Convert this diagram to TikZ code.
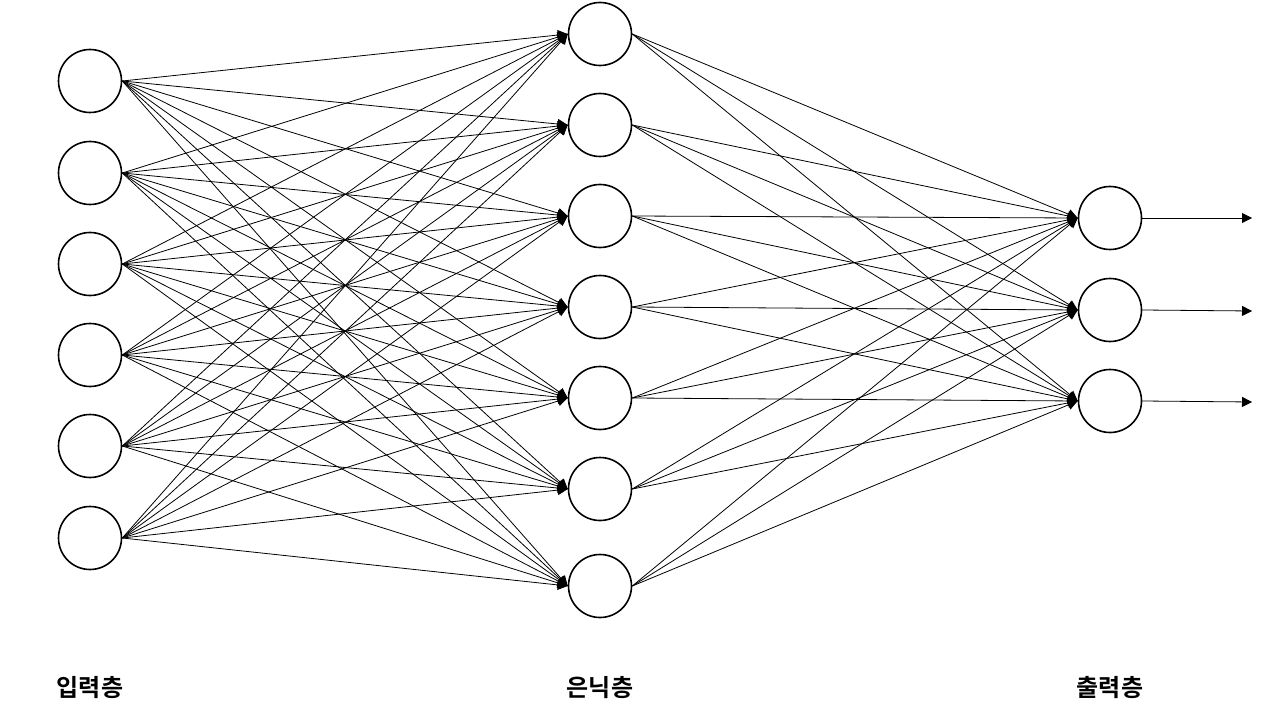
\documentclass[tikz,border=0pt]{standalone}
\usepackage{fontspec}
\newfontfamily\kr{Noto Sans CJK KR Bold}
\usetikzlibrary{arrows.meta}
\begin{document}
\begin{tikzpicture}[x=1pt,y=-1pt,
  neuron/.style={circle,draw,line width=1.6pt,minimum size=63pt,inner sep=0pt},
  conn/.style={line width=0.8pt,-{Triangle[length=10pt,width=10pt]}},
  lbl/.style={font=\kr\fontsize{24}{28}\selectfont}]
\useasboundingbox (0,0) rectangle (1265,719);
\foreach \y [count=\i] in {81,173,264,355,446,538}
  \node[neuron] (i\i) at (90,\y) {};
\foreach \y [count=\i] in {34,125,216,307,398,489,586}
  \node[neuron] (h\i) at (600,\y) {};
\foreach \y [count=\i] in {218,310,401}
  \node[neuron] (o\i) at (1110,\y) {};
\coordinate (e1) at (1252,218);
\coordinate (e2) at (1252,311);
\coordinate (e3) at (1252,402);
\foreach \a in {1,...,6}
  \foreach \b in {1,...,7}
    \draw[conn] (i\a.east) -- (h\b.west);
\foreach \a in {1,...,7}
  \foreach \b in {1,...,3}
    \draw[conn] (h\a.east) -- (o\b.west);
\foreach \b in {1,...,3}
  \draw[conn] (o\b.east) -- (e\b);
\node[lbl] (l1) at (90,688) {입력층};
\node[lbl] (l2) at (600,688) {은닉층};
\node[lbl] (l3) at (1110,688) {출력층};
\end{tikzpicture}
\end{document}
